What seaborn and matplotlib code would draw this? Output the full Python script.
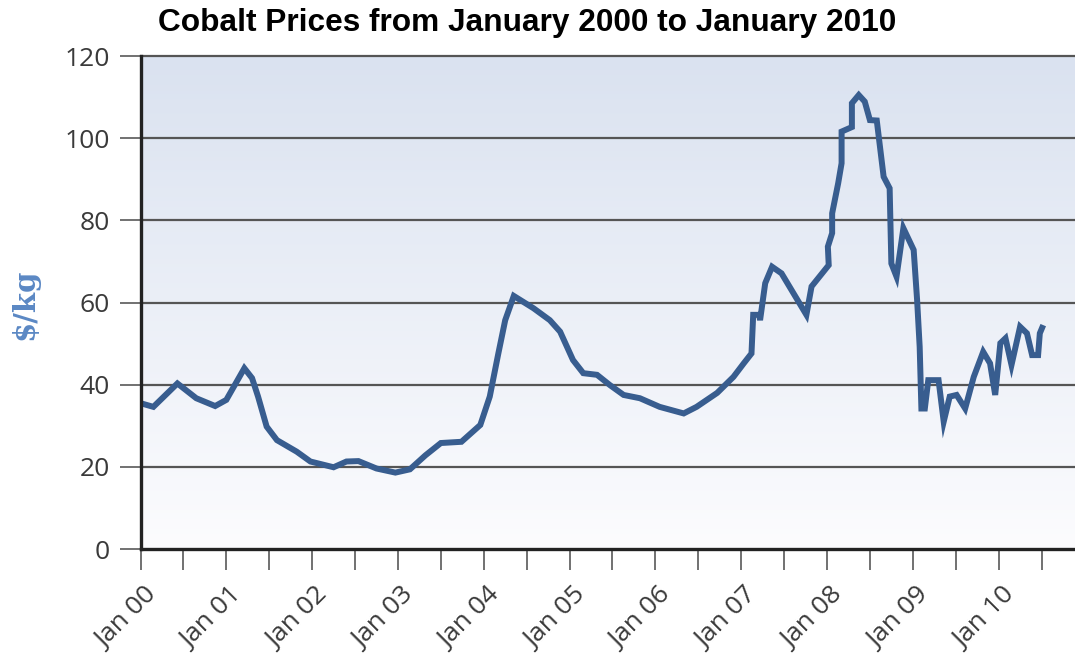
import numpy as np
import pandas as pd
import matplotlib
matplotlib.use("Agg")
import matplotlib.pyplot as plt
import matplotlib.transforms as mtransforms
from matplotlib.colors import LinearSegmentedColormap
import seaborn as sns

# Time in years since January 2000, and cobalt price in $/kg
years = [
    0.00, 0.15, 0.43, 0.65, 0.87, 1.00, 1.21, 1.30, 1.37, 1.47, 1.59, 1.82,
    1.98, 2.25, 2.40, 2.54, 2.75, 2.97, 3.14, 3.32, 3.50, 3.74, 3.96, 4.07,
    4.17, 4.25, 4.35, 4.58, 4.77, 4.89, 5.04, 5.16, 5.32, 5.47, 5.63, 5.82,
    6.05, 6.33, 6.48, 6.72, 6.91, 7.03, 7.12, 7.14, 7.21, 7.22, 7.28, 7.36,
    7.47, 7.76, 7.82, 8.02, 8.01, 8.06, 8.06, 8.13, 8.17, 8.17, 8.29, 8.29,
    8.37, 8.44, 8.50, 8.58, 8.66, 8.73, 8.75, 8.81, 8.89, 9.01, 9.05, 9.08,
    9.10, 9.14, 9.18, 9.30, 9.36, 9.43, 9.51, 9.61, 9.71, 9.82, 9.90, 9.96,
    10.02, 10.08, 10.15, 10.25, 10.33, 10.39, 10.46, 10.48, 10.52,
]
prices = [
    35.5, 34.6, 40.3, 36.7, 34.8, 36.3, 44.0, 41.6, 37.1, 29.8, 26.5, 23.7,
    21.3, 19.9, 21.3, 21.4, 19.6, 18.6, 19.4, 22.8, 25.8, 26.1, 30.2, 37.1,
    47.6, 55.7, 61.6, 58.6, 55.7, 52.9, 46.0, 42.8, 42.4, 39.9, 37.5, 36.7,
    34.6, 33.0, 34.6, 38.0, 41.9, 45.2, 47.6, 57.0, 57.0, 55.7, 64.7, 68.7,
    67.1, 57.0, 63.9, 69.1, 73.6, 76.9, 81.7, 89.0, 93.9, 101.6, 102.7, 108.5,
    110.5, 108.9, 104.4, 104.3, 90.6, 87.8, 69.5, 66.3, 78.1, 72.8, 60.6, 49.2,
    34.2, 34.2, 41.1, 41.1, 31.0, 37.1, 37.5, 34.2, 41.9, 48.0, 45.2, 37.5,
    50.1, 51.3, 44.8, 54.1, 52.5, 47.2, 47.2, 52.5, 54.5,
]
tick_labels = ["Jan 00", "Jan 01", "Jan 02", "Jan 03", "Jan 04", "Jan 05",
               "Jan 06", "Jan 07", "Jan 08", "Jan 09", "Jan 10"]
y_ticks = [0, 20, 40, 60, 80, 100, 120]

df = pd.DataFrame({"year": years, "price": prices})

sns.set_theme(style="white")
plt.rcParams["font.family"] = ["Open Sans", "DejaVu Sans"]

fig = plt.figure(figsize=(10.75, 6.55), dpi=100)
ax = fig.add_axes([0.1307, 0.1618, 0.8693, 0.7527])

# Soft blue-to-white vertical gradient behind the plot
grad = np.linspace(1, 0, 256).reshape(-1, 1)
cmap = LinearSegmentedColormap.from_list("bg", ["#fcfcfe", "#dae2f0"])
ax.imshow(grad, extent=[0, 1, 0, 1], transform=ax.transAxes, cmap=cmap,
          aspect="auto", zorder=0, interpolation="bicubic")

sns.lineplot(data=df, x="year", y="price", ax=ax, sort=False, estimator=None,
             color="#385d8f", linewidth=4.3, zorder=3,
             solid_joinstyle="miter", solid_capstyle="butt")

ax.set_xlim(0, 10.89)
ax.set_ylim(0, 120)

# Horizontal gridlines
for yv in y_ticks[1:-1]:
    ax.axhline(yv, color="#555555", linewidth=1.6, zorder=2)

ax.spines["right"].set_visible(False)
ax.spines["top"].set_color("#555555")
ax.spines["top"].set_linewidth(1.6)
for side in ["left", "bottom"]:
    ax.spines[side].set_color("#222222")
    ax.spines[side].set_linewidth(2.4)
    ax.spines[side].set_zorder(4)

ax.set_yticks(y_ticks)
ax.set_yticklabels([str(v) for v in y_ticks])
ax.set_xticks(np.arange(0, 11, 1))
ax.set_xticklabels(tick_labels)
ax.set_xticks(np.arange(0.5, 11, 1), minor=True)

ax.tick_params(axis="y", which="major", direction="out", length=15,
               width=1.3, color="#666666", labelsize=19,
               labelcolor="#3a3a3a", pad=7, left=True)
ax.tick_params(axis="x", which="both", direction="out", length=15,
               width=1.3, color="#666666", bottom=True)
ax.tick_params(axis="x", which="major", labelsize=19,
               labelcolor="#3a3a3a", pad=10)

# Rotated month labels, nudged right/down so each sits just past its tick
shift = mtransforms.ScaledTranslation(0.12, -0.08, fig.dpi_scale_trans)
for lab in ax.get_xticklabels():
    lab.set_rotation(45)
    lab.set_ha("right")
    lab.set_va("center")
    lab.set_rotation_mode("anchor")
    lab.set_transform(lab.get_transform() + shift)

ax.set_xlabel("")
ax.set_ylabel("")
fig.text(0.023, 0.536, "$/kg", rotation=90, ha="center", va="center",
         fontsize=21, fontweight="bold", color="#5b88c4",
         family=["DejaVu Serif"])

fig.text(0.49, 0.988, "Cobalt Prices from January 2000 to January 2010",
         ha="center", va="top", fontsize=22.8, fontweight="bold",
         color="black", family=["Liberation Sans", "DejaVu Sans"])

fig.savefig("out.png", dpi=100, facecolor="white")
